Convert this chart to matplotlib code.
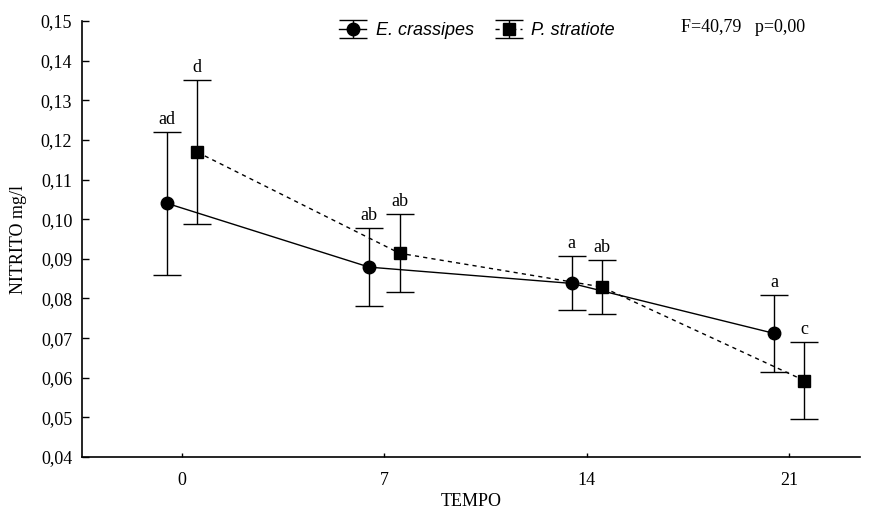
import numpy as np
import matplotlib.pyplot as plt
from matplotlib.ticker import FuncFormatter

tempo = ["0", "7", "14", "21"]
crassipes = [0.1040, 0.0879, 0.0838, 0.0712]
crassipes_err = [0.0180, 0.0098, 0.0068, 0.0097]
stratiote = [0.1169, 0.0914, 0.0829, 0.0593]
stratiote_err = [0.0181, 0.0098, 0.0067, 0.0097]
letras_crassipes = ["ad", "ab", "a", "a"]
letras_stratiote = ["d", "ab", "ab", "c"]

serif = "Liberation Serif"
sans = "Liberation Sans"
fs = 13

fig = plt.figure(figsize=(8.79, 5.16), dpi=100)
ax = fig.add_axes([0.0933, 0.1143, 0.885, 0.845])

x = np.arange(len(tempo))
off = 0.075

e1 = ax.errorbar(x - off, crassipes, yerr=crassipes_err, color="black", lw=1,
                 marker="o", ms=9, capsize=10, capthick=1, elinewidth=1,
                 label="E. crassipes")
e2 = ax.errorbar(x + off, stratiote, yerr=stratiote_err, color="black", lw=1,
                 ls=(0, (3, 3)), marker="s", ms=8.5, capsize=10, capthick=1,
                 elinewidth=1, label="P. stratiote")

for xi, yi, ei, t in zip(x - off, crassipes, crassipes_err, letras_crassipes):
    ax.annotate(t, (xi, yi + ei), xytext=(0, 3), textcoords="offset points",
                ha="center", va="bottom", fontsize=fs, family=serif)
for xi, yi, ei, t in zip(x + off, stratiote, stratiote_err, letras_stratiote):
    ax.annotate(t, (xi, yi + ei), xytext=(0, 3), textcoords="offset points",
                ha="center", va="bottom", fontsize=fs, family=serif)

ax.set_xlim(-0.495, 3.35)
ax.set_ylim(0.04, 0.15)
ax.set_xticks(x)
ax.set_xticklabels(tempo, family=serif, fontsize=fs)
ax.set_yticks(np.arange(0.04, 0.1501, 0.01))
ax.yaxis.set_major_formatter(FuncFormatter(lambda v, p: f"{v:.2f}".replace(".", ",")))
for lab in ax.get_yticklabels():
    lab.set_family(serif)
    lab.set_fontsize(fs)
ax.tick_params(axis="y", direction="in", length=5, width=1, pad=7)
ax.tick_params(axis="x", direction="in", length=3, width=1, pad=11)

ax.spines["top"].set_visible(False)
ax.spines["right"].set_visible(False)
ax.spines["left"].set_linewidth(1.2)
ax.spines["bottom"].set_linewidth(1.2)

ax.set_ylabel("NITRITO mg/l", family=serif, fontsize=fs, labelpad=10)
ax.set_xlabel("TEMPO", family=serif, fontsize=fs, labelpad=3)

leg = ax.legend(handles=[e1, e2], loc="upper left", bbox_to_anchor=(0.31, 1.035),
                ncol=2, frameon=False, handlelength=1.5, handletextpad=0.5,
                columnspacing=1.2, prop={"family": sans, "style": "italic", "size": 13})

ax.text(0.85, 0.985, "F=40,79   p=0,00", transform=ax.transAxes, ha="center",
        va="center", family=serif, fontsize=fs)

fig.savefig("out.png", dpi=100)
